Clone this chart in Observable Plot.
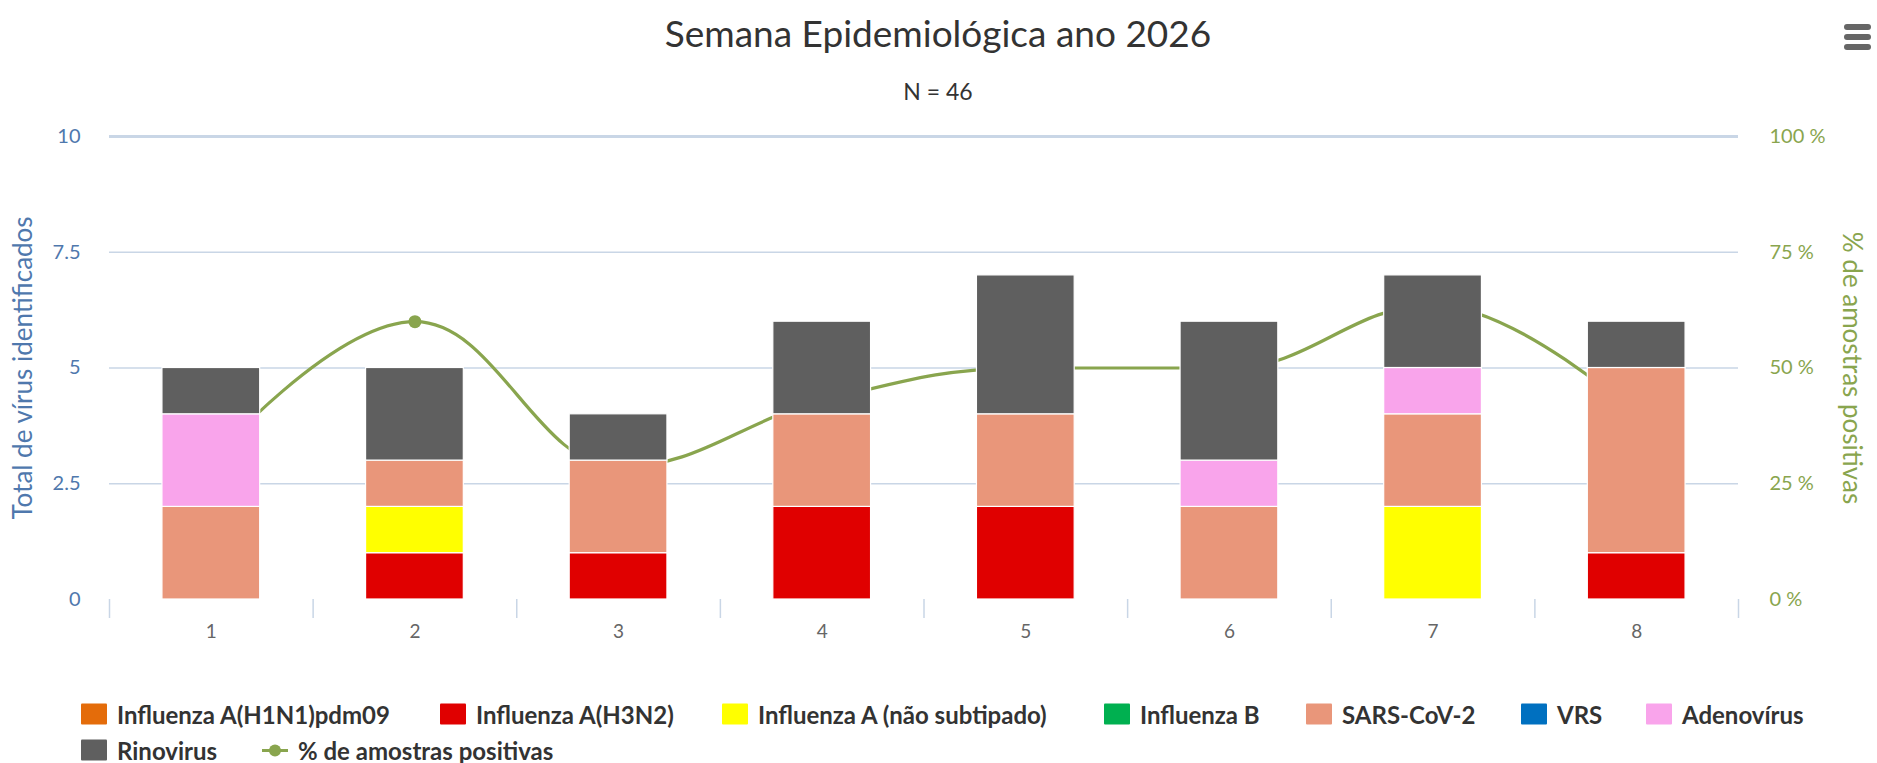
<!DOCTYPE html>
<html>
<head>
<meta charset="utf-8">
<script src="https://cdn.jsdelivr.net/npm/d3@7"></script>
<script src="https://cdn.jsdelivr.net/npm/@observablehq/plot@0.6"></script>
<style>
  html, body { margin: 0; padding: 0; background: #fff; }
  #page { position: relative; width: 1877px; height: 763px; overflow: hidden; font-family: Lato, "Open Sans", sans-serif; }
  .abs { position: absolute; white-space: nowrap; }
  #chart { position: absolute; left: 0; top: 100px; }
  .center { transform: translate(-50%, -50%); }
  .leg { position: absolute; display: flex; align-items: center; transform: translateY(-50%); font-weight: 700; font-size: 24px; color: #333; white-space: nowrap; }
  .sw { width: 26px; height: 21px; margin-right: 10px; border-radius: 1px; }
  .burger { position: absolute; left: 1844px; width: 27px; height: 6px; border-radius: 3px; background: #666; }
</style>
</head>
<body>
<div id="page">
  <div id="title" class="abs center" style="left:938px; top:32px; font-size:37px; color:#333;"></div>
  <div id="subtitle" class="abs center" style="left:938px; top:91px; font-size:23px; color:#333;"></div>
  <div class="burger" style="top:24px"></div>
  <div class="burger" style="top:34px"></div>
  <div class="burger" style="top:44px"></div>
  <div id="chart"></div>
  <div id="legend"></div>
</div>
<script>
// ---- data ----
const titleText = "Semana Epidemiológica ano 2026";
const subtitleText = "N = 46";
const leftAxisTitle = "Total de vírus identificados";
const rightAxisTitle = "% de amostras positivas";
const lineName = "% de amostras positivas";

const weeks = [1, 2, 3, 4, 5, 6, 7, 8];
const seriesNames = [
  "Influenza A(H1N1)pdm09",
  "Influenza A(H3N2)",
  "Influenza A (não subtipado)",
  "Influenza B",
  "SARS-CoV-2",
  "VRS",
  "Adenovírus",
  "Rinovirus"
];
const seriesColors = ["#E46C0A", "#E00000", "#FFFF00", "#00B050", "#E9967A", "#0070C0", "#F9A4EB", "#5F5F5F"];

const h1n1     = [0, 0, 0, 0, 0, 0, 0, 0];
const h3n2     = [0, 1, 1, 2, 2, 0, 0, 1];
const fluANs   = [0, 1, 0, 0, 0, 0, 2, 0];
const fluB     = [0, 0, 0, 0, 0, 0, 0, 0];
const sarsCov2 = [2, 1, 2, 2, 2, 2, 2, 4];
const vrs      = [0, 0, 0, 0, 0, 0, 0, 0];
const adeno    = [2, 0, 0, 0, 0, 1, 1, 0];
const rino     = [1, 2, 1, 2, 3, 3, 2, 1];
const seriesValues = [h1n1, h3n2, fluANs, fluB, sarsCov2, vrs, adeno, rino];

const pctPositive = [30, 60, 28.6, 42.9, 50, 50, 63.6, 40];

const leftTicks = [0, 2.5, 5, 7.5, 10];
const rightTicks = [0, 25, 50, 75, 100];
const leftMax = 10, rightMax = 100;

// ---- build tables ----
const toY = p => p * leftMax / rightMax;
const halfBar = 0.24;
const stacked = [];
weeks.forEach((w, wi) => {
  let acc = 0;
  seriesNames.forEach((s, si) => {
    const v = seriesValues[si][wi];
    if (v > 0) {
      stacked.push({week: w, virus: s, y1: acc, y2: acc + v});
      acc += v;
    }
  });
});
const pctRows = weeks.map((w, i) => ({week: w, pct: pctPositive[i]}));
const boundaries = [weeks[0] - 0.5, ...weeks.map(w => w + 0.5)];

// Highcharts-like spline curve
function hcSpline(context) {
  let pts;
  return {
    areaStart() {}, areaEnd() {},
    lineStart() { pts = []; },
    point(x, y) { pts.push([+x, +y]); },
    lineEnd() {
      const n = pts.length;
      if (!n) return;
      context.moveTo(pts[0][0], pts[0][1]);
      let prevRight = null;
      for (let i = 1; i < n; i++) {
        const [x, y] = pts[i];
        const [lx, ly] = pts[i - 1];
        let left = null, right = null;
        if (i < n - 1) {
          const [nx, ny] = pts[i + 1];
          let lcx = (1.5 * x + lx) / 2.5, lcy = (1.5 * y + ly) / 2.5;
          let rcx = (1.5 * x + nx) / 2.5, rcy = (1.5 * y + ny) / 2.5;
          if (rcx !== lcx) {
            const corr = ((rcy - lcy) * (rcx - x)) / (rcx - lcx) + y - rcy;
            lcy += corr; rcy += corr;
          }
          if (lcy > ly && lcy > y) { lcy = Math.max(ly, y); rcy = 2 * y - lcy; }
          else if (lcy < ly && lcy < y) { lcy = Math.min(ly, y); rcy = 2 * y - lcy; }
          if (rcy > ny && rcy > y) { rcy = Math.max(ny, y); lcy = 2 * y - rcy; }
          else if (rcy < ny && rcy < y) { rcy = Math.min(ny, y); lcy = 2 * y - rcy; }
          left = [lcx, lcy]; right = [rcx, rcy];
        }
        const c1 = prevRight || [lx, ly];
        const c2 = left || [x, y];
        context.bezierCurveTo(c1[0], c1[1], c2[0], c2[1], x, y);
        prevRight = right;
      }
    }
  };
}

document.getElementById("title").textContent = titleText;
document.getElementById("subtitle").textContent = subtitleText;

const gridColor = "#C9D6E6";
const leftColor = "#4F78AD";
const rightColor = "#89A54E";
const lineColor = "#89A54E";

const chart = Plot.plot({
  width: 1877,
  height: 560,
  marginLeft: 109,
  marginRight: 139,
  marginTop: 36,
  marginBottom: 61,
  style: {fontFamily: "Lato, 'Open Sans', sans-serif", background: "transparent", overflow: "visible"},
  x: {type: "linear", domain: [boundaries[0], boundaries[boundaries.length - 1]]},
  y: {domain: [0, leftMax]},
  color: {domain: seriesNames, range: seriesColors},
  marks: [
    Plot.ruleY(leftTicks.filter(t => t > 0 && t < leftMax), {y: d => d, stroke: gridColor, strokeWidth: 1.6}),
    Plot.ruleY([leftMax], {y: d => d, stroke: gridColor, strokeWidth: 3}),
    Plot.axisX(boundaries, {tickSize: 19, tickFormat: () => "", color: gridColor, strokeWidth: 1.5, label: null}),
    Plot.axisX(weeks, {tickSize: 0, tickPadding: 25, fontSize: 19, color: "#666", label: null, tickFormat: d => String(d)}),
    Plot.axisY(leftTicks, {anchor: "left", tickSize: 0, tickPadding: 29, fontSize: 20, color: leftColor, label: null,
      tickFormat: d => String(d)}),
    Plot.axisY(rightTicks.map(toY), {anchor: "right", tickSize: 0, tickPadding: 31, fontSize: 20, color: rightColor, label: null,
      tickFormat: d => `${Math.round(d * rightMax / leftMax)} %`}),
    Plot.text([leftAxisTitle], {frameAnchor: "left", textAnchor: "middle", dx: -86, rotate: -90, fontSize: 26, fill: leftColor}),
    Plot.text([rightAxisTitle], {frameAnchor: "right", textAnchor: "middle", dx: 113, rotate: 90, fontSize: 26, fill: rightColor}),
    Plot.line(pctRows, {x: "week", y: d => toY(d.pct), stroke: lineColor, strokeWidth: 3.2, curve: hcSpline}),
    Plot.dot(pctRows, {x: "week", y: d => toY(d.pct), r: 6.5, fill: lineColor, stroke: "none"}),
    Plot.rect(stacked, {x1: d => d.week - halfBar, x2: d => d.week + halfBar, y1: "y1", y2: "y2", fill: "virus", stroke: "#fff", strokeWidth: 1.2})
  ]
});
document.getElementById("chart").appendChild(chart);

// ---- legend ----
const legend = document.getElementById("legend");
const row1X = [81, 440, 722, 1104, 1306, 1521, 1646];
const row1Y = 714, row2Y = 750;
seriesNames.forEach((s, i) => {
  const item = document.createElement("div");
  item.className = "leg";
  const isRow2 = i >= 7;
  item.style.left = (isRow2 ? 81 : row1X[i]) + "px";
  item.style.top = (isRow2 ? row2Y : row1Y) + "px";
  const sw = document.createElement("div");
  sw.className = "sw";
  sw.style.background = seriesColors[i];
  item.appendChild(sw);
  const t = document.createElement("span");
  t.textContent = s;
  item.appendChild(t);
  legend.appendChild(item);
});
{
  const item = document.createElement("div");
  item.className = "leg";
  item.style.left = "262px";
  item.style.top = row2Y + "px";
  item.innerHTML = `<svg width="26" height="14" style="margin-right:10px"><line x1="0" y1="7" x2="26" y2="7" stroke="${lineColor}" stroke-width="3"/><circle cx="13" cy="7" r="6" fill="${lineColor}"/></svg>`;
  const t = document.createElement("span");
  t.textContent = lineName;
  item.appendChild(t);
  legend.appendChild(item);
}
</script>
</body>
</html>
